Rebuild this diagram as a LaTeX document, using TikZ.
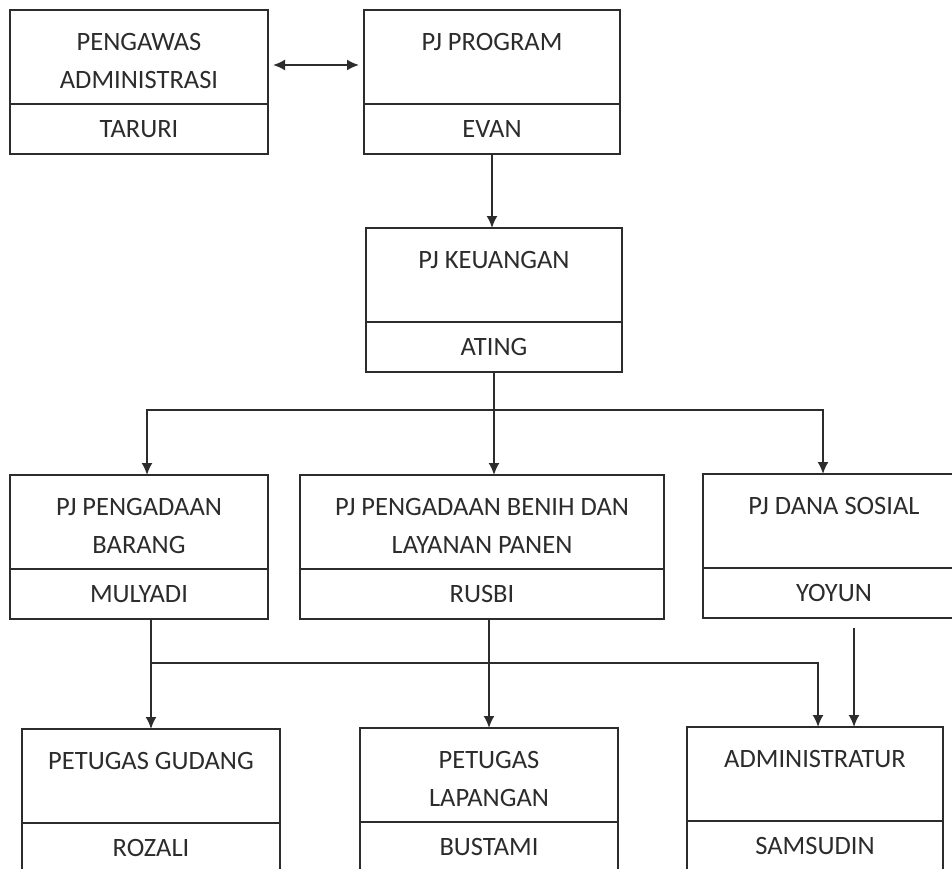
\documentclass[tikz,border=0pt]{standalone}
\usepackage{fontspec}
\setmainfont{Carlito}
\usetikzlibrary{arrows.meta}
\definecolor{garis}{HTML}{2C2C2C}
\newcommand{\buatkotak}[6]{\node[kotak, minimum width=#4pt, anchor=north west] (#1) at (#2,#3) {}; \node[kotak, minimum width=#4pt, minimum height=50pt, anchor=north] (#1-nama) at (#1.south) {#6}; \node[judul, anchor=north] (#1-judul) at ([yshift=-22pt]#1.north) {#5};}

\begin{document}
\begin{tikzpicture}[x=1pt, y=-1pt, color=garis, line width=1.8pt,
    kotak/.style={draw, rectangle, minimum height=94pt, inner sep=0pt, outer sep=0pt, font=\fontsize{26.5}{38}\selectfont},
    judul/.style={inner sep=0pt, align=center, font=\fontsize{26.5}{38}\selectfont},
    >={Latex[length=12pt,width=11pt]}]
        \path[use as bounding box] (0,0) rectangle (952,869);
        \clip (0,0) rectangle (952,869);
        %baris 1
        \buatkotak{pengawas}{10}{10}{258}{PENGAWAS\\ADMINISTRASI}{TARURI}
        \buatkotak{program}{364}{10}{256}{PJ PROGRAM}{EVAN}
        \buatkotak{keuangan}{366}{228}{256}{PJ KEUANGAN}{ATING}
        %baris 2
        \buatkotak{barang}{10}{475}{258}{PJ PENGADAAN\\BARANG}{MULYADI}
        \buatkotak{benih}{300}{475}{364}{PJ PENGADAAN BENIH DAN\\LAYANAN PANEN}{RUSBI}
        \buatkotak{dana}{703}{474}{262}{PJ DANA SOSIAL}{YOYUN}
        %baris 3
        \buatkotak{gudang}{22}{729}{258}{PETUGAS GUDANG}{ROZALI}
        \buatkotak{lapangan}{360}{728}{258}{PETUGAS\\LAPANGAN}{BUSTAMI}
        \buatkotak{admin}{687}{727}{256}{ADMINISTRATUR}{SAMSUDIN}

        \draw[<->, shorten <=5pt, shorten >=5pt] ([yshift=-8pt]pengawas.east) -- ([yshift=-8pt]program.west);
        \draw[->] (program-nama.south) -- (program-nama.south |- keuangan.north);

        \coordinate (cabang) at ([yshift=-38pt]keuangan-nama.south);
        \draw[->] (keuangan-nama.south) -- (keuangan-nama.south |- benih.north);
        \draw[->] (cabang) -| ([xshift=8pt]barang.north);
        \draw[->] (cabang) -| ([xshift=-11pt]dana.north);

        \coordinate (turun) at (barang-nama.south -| gudang.north);
        \draw[->] (turun) -- (gudang.north);
        \draw[->] ([yshift=-44pt]turun) -| ([xshift=3pt]admin.north);
        \draw[->] (benih-nama.south -| lapangan.north) -- (lapangan.north);
        \coordinate (yoyun) at ([xshift=20pt]dana-nama.south);
        \draw[->] ([yshift=-10pt]yoyun) -- (yoyun |- admin.north);
\end{tikzpicture}
\end{document}
